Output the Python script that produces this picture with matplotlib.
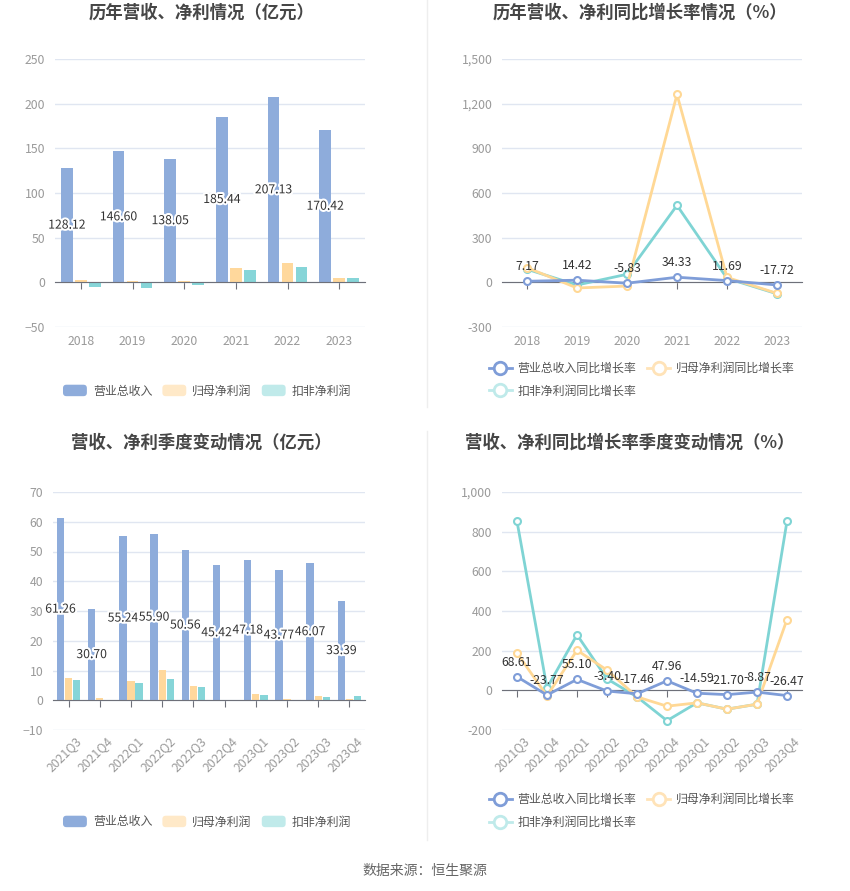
import matplotlib
matplotlib.use("Agg")
import matplotlib.pyplot as plt
import matplotlib.patheffects as pe
import matplotlib.transforms as mtrans
from matplotlib.patches import FancyBboxPatch, Rectangle
from matplotlib.lines import Line2D
from matplotlib.legend_handler import HandlerPatch
from matplotlib.ticker import FuncFormatter
import numpy as np

plt.rcParams['font.family'] = ['Noto Sans CJK SC', 'DejaVu Sans']

# ---------------- data ----------------
years = ['2018', '2019', '2020', '2021', '2022', '2023']
rev_y = [128.12, 146.60, 138.05, 185.44, 207.13, 170.42]
np_y = [2.6, 1.5, 1.1, 15.8, 21.8, 4.9]
kf_y = [-5.6, -6.8, -3.0, 13.9, 17.7, 4.9]

rev_g_y = [7.17, 14.42, -5.83, 34.33, 11.69, -17.72]
np_g_y = [99, -38, -25, 1262, 33, -74]
kf_g_y = [88, -18, 54, 517, 27, -77]

quarters = ['2021Q3', '2021Q4', '2022Q1', '2022Q2', '2022Q3', '2022Q4',
            '2023Q1', '2023Q2', '2023Q3', '2023Q4']
rev_q = [61.26, 30.70, 55.24, 55.90, 50.56, 45.42, 47.18, 43.77, 46.07, 33.39]
np_q = [7.5, 0.7, 6.4, 10.2, 4.8, 0.1, 2.0, 0.3, 1.3, 0.5]
kf_q = [6.8, 0.2, 5.9, 7.2, 4.4, -0.2, 1.9, 0.1, 1.0, 1.4]

rev_g_q = [68.61, -23.77, 55.10, -3.40, -17.46, 47.96, -14.59, -21.70, -8.87, -26.47]
np_g_q = [188, -28, 202, 102, -33, -80, -63, -95, -70, 357]
kf_g_q = [852, 12, 280, 58, -33, -153, -63, -95, -70, 853]

bar_names = ['营业总收入', '归母净利润', '扣非净利润']
line_names = ['营业总收入同比增长率', '归母净利润同比增长率', '扣非净利润同比增长率']
titles = ['历年营收、净利情况（亿元）', '历年营收、净利同比增长率情况（%）',
          '营收、净利季度变动情况（亿元）', '营收、净利同比增长率季度变动情况（%）']

# ---------------- style ----------------
BAR_C = ['#8eacdb', '#ffd89c', '#86d5d8']
BAR_LEG = ['#8eacdb', '#ffe9c8', '#c0eaea']
LINE_C = ['#7f9dd8', '#ffd895', '#7fd4d4']
LINE_LEG = ['#7f9dd8', '#ffe3b8', '#bfeaea']
GRID = '#e0e6f1'
AXIS = '#6e7079'
TICK_TXT = '#9a9a9a'
TXT = '#333333'
FS_TICK = 8.8
FS_LAB = 8.8
FS_LEG = 8.6

W, H = 850, 891
fig = plt.figure(figsize=(W / 100, H / 100), dpi=100)


def ax_at(x0, y0, x1, y1):
    return fig.add_axes([x0 / W, 1 - y1 / H, (x1 - x0) / W, (y1 - y0) / H])


class RoundHandler(HandlerPatch):
    def create_artists(self, legend, orig_handle, xdescent, ydescent,
                       width, height, fontsize, trans):
        p = FancyBboxPatch((-xdescent, -ydescent), width, height,
                           boxstyle='round,pad=0,rounding_size=2.5',
                           fc=orig_handle.get_facecolor(), ec='none',
                           transform=trans)
        return [p]


def style_axis(ax, cats, ylim, step, fmt=None, rotate=False):
    ax.set_xlim(-0.5, len(cats) - 0.5)
    ax.set_ylim(*ylim)
    ax.set_yticks(np.arange(ylim[0], ylim[1] + step / 2, step))
    if fmt:
        ax.yaxis.set_major_formatter(FuncFormatter(fmt))
    ax.grid(axis='y', color=GRID, lw=1)
    ax.set_axisbelow(True)
    for s in ['left', 'right', 'top']:
        ax.spines[s].set_visible(False)
    ax.spines['bottom'].set_position(('data', 0))
    ax.spines['bottom'].set_color(AXIS)
    ax.spines['bottom'].set_zorder(2.5)
    ax.set_xticks(range(len(cats)))
    ax.tick_params(axis='x', length=5, color=AXIS, labelbottom=False)
    ax.tick_params(axis='y', length=0, labelcolor=TICK_TXT, labelsize=FS_TICK, pad=7)
    trans = mtrans.blended_transform_factory(ax.transData, ax.transAxes)
    off = mtrans.ScaledTranslation(0, -8 / 100, fig.dpi_scale_trans)
    for i, c in enumerate(cats):
        if rotate:
            ax.text(i + 0.2, 0, c, transform=trans + mtrans.ScaledTranslation(0, -4 / 100, fig.dpi_scale_trans),
                    rotation=45, ha='right', va='top', color=TICK_TXT, fontsize=FS_TICK,
                    rotation_mode='anchor')
        else:
            ax.text(i, 0, c, transform=trans + off, ha='center', va='top',
                    color=TICK_TXT, fontsize=FS_TICK)


def bars(ax, cats, series, width, offset):
    x = np.arange(len(cats))
    for k, (vals, col) in enumerate(zip(series, BAR_C)):
        ax.bar(x + (k - 1) * offset, vals, width, color=col, zorder=2)
    for xi, v in zip(x, series[0]):
        ax.text(xi - offset, v / 2, f'{v:.2f}', ha='center', va='center',
                fontsize=FS_LAB, color=TXT, zorder=5,
                path_effects=[pe.withStroke(linewidth=3, foreground='white')])


def lines(ax, cats, series):
    x = np.arange(len(cats))
    order = [2, 1, 0]
    for k in order:
        ax.plot(x, series[k], color=LINE_C[k], lw=2, marker='o', ms=5,
                mfc='white', mew=1.5, zorder=3 + (k == 0))
    for xi, v in zip(x, series[0]):
        ax.annotate(f'{v:.2f}', (xi, v), xytext=(0, 8), textcoords='offset pixels',
                    ha='center', va='bottom', fontsize=FS_LAB, color=TXT, zorder=6)


def bar_legend(cx, cy):
    hs = [Rectangle((0, 0), 1, 1, fc=c) for c in BAR_LEG]
    fig.legend(hs, bar_names, loc='center', bbox_to_anchor=(cx / W, 1 - cy / H),
               ncol=3, frameon=False, fontsize=FS_LEG, handlelength=2.0,
               handleheight=1.1, handletextpad=0.5, columnspacing=0.85,
               borderpad=0, labelcolor='#555555',
               handler_map={Rectangle: RoundHandler()})


def line_legend(lx, cy):
    hs = [Line2D([], [], color=c, lw=2, marker='o', ms=9, mfc='white', mew=2)
          for c in LINE_LEG]
    order = [0, 2, 1]
    fig.legend([hs[i] for i in order], [line_names[i] for i in order],
               loc='center left', bbox_to_anchor=(lx / W, 1 - cy / H),
               ncol=2, frameon=False, fontsize=FS_LEG, handlelength=1.9,
               handletextpad=0.5, columnspacing=0.9, labelspacing=0.8,
               borderpad=0, borderaxespad=0, labelcolor='#555555')


# ---- top-left ----
ax1 = ax_at(55, 59, 365, 327)
style_axis(ax1, years, (-50, 250), 50)
bars(ax1, years, [rev_y, np_y, kf_y], 0.225, 0.27)
bar_legend(207, 391)

# ---- top-right ----
ax2 = ax_at(502, 59, 802, 327)
style_axis(ax2, years, (-300, 1500), 300, fmt=lambda v, p: f'{int(v):,}')
lines(ax2, years, [rev_g_y, np_g_y, kf_g_y])
line_legend(489, 379.5)

# ---- bottom-left ----
ax3 = ax_at(53, 492, 365, 730)
style_axis(ax3, quarters, (-10, 70), 10, rotate=True)
bars(ax3, quarters, [rev_q, np_q, kf_q], 0.235, 0.26)
bar_legend(207, 822)

# ---- bottom-right ----
ax4 = ax_at(502, 492, 802, 730)
style_axis(ax4, quarters, (-200, 1000), 200, fmt=lambda v, p: f'{int(v):,}', rotate=True)
lines(ax4, quarters, [rev_g_q, np_g_q, kf_g_q])
line_legend(489, 811)

# ---- titles ----
for (cx, cy), t in zip([(202, 13), (640, 13), (201, 443), (630, 443)], titles):
    fig.text(cx / W, 1 - cy / H, t, ha='center', va='center', fontsize=12.5,
             fontweight='bold', color='#464646')

fig.text(425 / W, 1 - 871 / H, '数据来源：恒生聚源', ha='center', va='center',
         fontsize=10, color='#666666')

# dividers
fig.add_artist(Line2D([427 / W, 427 / W], [1 - 0 / H, 1 - 407 / H], color='#eeeeee', lw=1))
fig.add_artist(Line2D([427 / W, 427 / W], [1 - 431 / H, 1 - 840 / H], color='#eeeeee', lw=1))

fig.savefig('out.png', dpi=100, facecolor='white')
